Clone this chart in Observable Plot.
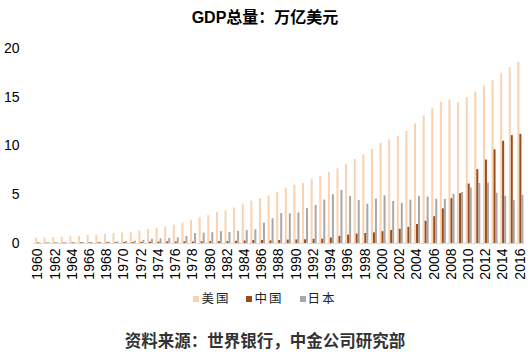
<!DOCTYPE html>
<html>
<head>
<meta charset="utf-8">
<script src="https://cdn.jsdelivr.net/npm/d3@7"></script>
<script src="https://cdn.jsdelivr.net/npm/@observablehq/plot@0.6"></script>
<style>
  body { margin: 0; background: #fff; width: 530px; }
  #title { height: 30px; line-height: 35px; text-align: center; font-weight: bold; font-size: 16px; color: #000;
    font-family: "Liberation Sans", Arial, "Noto Sans CJK SC", sans-serif; }
  #legend { height: 26px; line-height: 26px; text-align: center; font-size: 12.5px; color: #222;
    font-family: "Noto Sans CJK SC", sans-serif; }
  #legend span.item { margin: 0 8px; letter-spacing: 2px; }
  #legend span.sw { display: inline-block; width: 6px; height: 6px; margin-right: 2px; vertical-align: 1px; }
  #caption { padding-top: 17px; text-align: center; font-size: 16.5px; font-weight: bold; color: #333;
    font-family: "Noto Sans CJK SC", sans-serif; }
</style>
</head>
<body>
<div id="title">GDP总量：万亿美元</div>
<div id="chart"></div>
<div id="legend"></div>
<div id="caption">资料来源：世界银行，中金公司研究部</div>
<script>
const years = d3.range(1960, 2017);
const seriesNames = ["美国", "中国", "日本"];
const seriesColors = ["#f9d2b1", "#9b4c1a", "#a8a8a8"];
const usGDP = [0.54,0.56,0.60,0.64,0.69,0.74,0.82,0.86,0.94,1.02,
  1.07,1.16,1.28,1.43,1.55,1.69,1.88,2.09,2.36,2.63,
  2.86,3.21,3.34,3.64,4.04,4.35,4.59,4.87,5.25,5.66,
  5.98,6.17,6.54,6.88,7.31,7.66,8.10,8.61,9.09,9.66,
  10.28,10.62,10.98,11.51,12.27,13.09,13.86,14.48,14.72,14.42,
  14.96,15.52,16.16,16.69,17.39,18.04,18.57];
const chinaGDP = [0.06,0.05,0.047,0.05,0.059,0.070,0.076,0.072,0.070,0.079,
  0.093,0.099,0.114,0.139,0.144,0.163,0.154,0.175,0.149,0.178,
  0.191,0.196,0.205,0.230,0.260,0.309,0.301,0.273,0.312,0.348,
  0.361,0.383,0.427,0.445,0.564,0.734,0.864,0.962,1.029,1.094,
  1.211,1.339,1.471,1.660,1.955,2.286,2.752,3.552,4.598,5.110,
  6.101,7.573,8.561,9.607,10.482,11.065,11.191];
const japanGDP = [0.044,0.053,0.061,0.070,0.082,0.091,0.106,0.124,0.147,0.172,
  0.212,0.240,0.318,0.432,0.479,0.521,0.576,0.721,1.014,1.055,
  1.105,1.219,1.134,1.243,1.318,1.398,2.078,2.532,3.072,3.054,
  3.133,3.584,3.909,4.454,4.999,5.449,4.833,4.414,4.033,4.562,
  4.888,4.304,4.115,4.445,4.815,4.755,4.530,4.515,5.038,5.231,
  5.700,6.157,6.203,5.156,4.850,4.395,4.949];
const yTicks = [0, 5, 10, 15, 20];

const seriesValues = [usGDP, chinaGDP, japanGDP];
const data = [];
years.forEach((yr, i) => {
  seriesNames.forEach((s, j) => data.push({year: yr, series: s, value: seriesValues[j][i]}));
});

const chart = Plot.plot({
  width: 530,
  height: 255,
  marginTop: 18,
  marginBottom: 42,
  marginLeft: 33,
  marginRight: 6,
  style: {fontSize: "14px", fontFamily: "Liberation Sans, Arial, sans-serif", color: "#000", background: "#fff"},
  fx: {domain: years, padding: 0, label: null, tickSize: 0, tickRotate: -90, tickPadding: 5,
       tickFormat: d => d % 2 === 0 ? String(d) : ""},
  x: {domain: seriesNames, paddingInner: 0.2, paddingOuter: 0.35, axis: null},
  y: {domain: [0, 20], ticks: yTicks, tickSize: 0, tickPadding: 14, label: null},
  color: {domain: seriesNames, range: seriesColors},
  marks: [
    Plot.barY(data, {fx: "year", x: "series", y: "value", fill: "series"}),
    Plot.ruleY([0], {stroke: "#d9d9d9", strokeWidth: 1})
  ]
});
document.getElementById("chart").appendChild(chart);

const legend = document.getElementById("legend");
seriesNames.forEach((s, j) => {
  const item = document.createElement("span");
  item.className = "item";
  const sw = document.createElement("span");
  sw.className = "sw";
  sw.style.background = seriesColors[j];
  item.appendChild(sw);
  item.appendChild(document.createTextNode(s));
  legend.appendChild(item);
});
</script>
</body>
</html>
